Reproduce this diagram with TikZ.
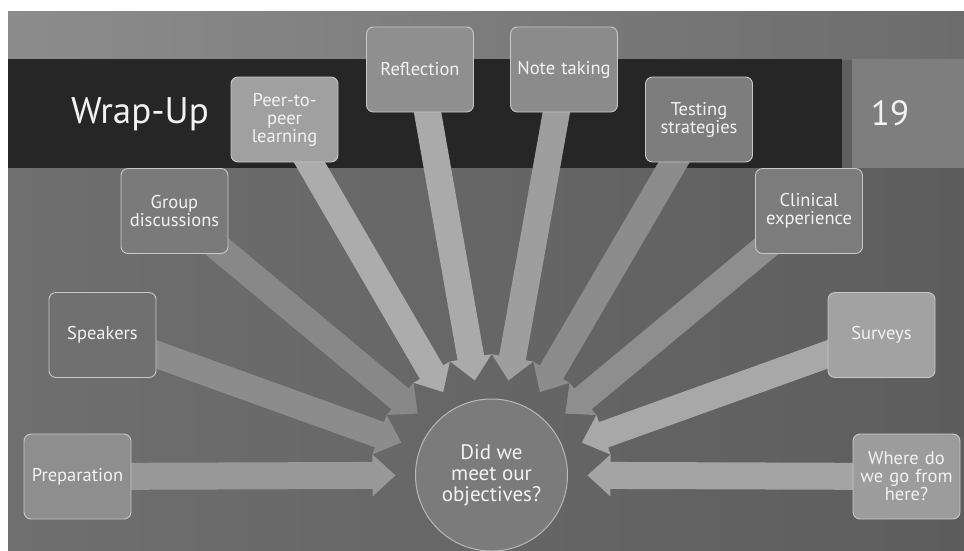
\documentclass[tikz,border=0pt]{standalone}
\usepackage{fontspec}
\setmainfont{PT Sans}
\usetikzlibrary{calc}
\pgfdeclarelayer{back}
\pgfdeclarelayer{mid}
\pgfsetlayers{back,mid,main}
\definecolor{bandcol}{HTML}{262626}
\definecolor{pagecol}{HTML}{7E7E7E}
\definecolor{bgtopL}{HTML}{8C8C8C}
\definecolor{bgtopR}{HTML}{6C6C6C}
\definecolor{bgL}{HTML}{6F6F6F}
\definecolor{bgR}{HTML}{5D5D5D}
\definecolor{boxline}{HTML}{C8C8C8}
\definecolor{circfill}{HTML}{7B7B7B}
\definecolor{circline}{HTML}{B8B8B8}
\definecolor{txt}{HTML}{F2F2F2}
% box fills
\definecolor{fRefl}{HTML}{8F8F8F}
\definecolor{fNote}{HTML}{8B8B8B}
\definecolor{fPeer}{HTML}{A0A0A0}
\definecolor{fTest}{HTML}{7D7D7D}
\definecolor{fGroup}{HTML}{7A7A7A}
\definecolor{fClin}{HTML}{7C7C7C}
\definecolor{fSpeak}{HTML}{707070}
\definecolor{fSurv}{HTML}{A2A2A2}
\definecolor{fPrep}{HTML}{8E8E8E}
\definecolor{fWhere}{HTML}{9C9C9C}
% arrow fills
\definecolor{aPrep}{HTML}{989898}
\definecolor{aSpeak}{HTML}{8C8C8C}
\definecolor{aGroup}{HTML}{888888}
\definecolor{aPeer}{HTML}{ACACAC}
\definecolor{aRefl}{HTML}{AAAAAA}
\definecolor{aNote}{HTML}{9E9E9E}
\definecolor{aTest}{HTML}{8C8C8C}
\definecolor{aClin}{HTML}{8E8E8E}
\definecolor{aSurv}{HTML}{A8A8A8}
\definecolor{aWhere}{HTML}{A4A4A4}
\newcommand{\blockarrow}[2]{%
  \fill[fill=#2]
    ($(c)!96pt!(#1)$)
    -- ($($(c)!119pt!(#1)$)!21pt!90:(#1)$)
    -- ($($(c)!119pt!(#1)$)!13.5pt!90:(#1)$)
    -- ($(#1)!13.5pt!-90:(c)$)
    -- ($(#1)!13.5pt!90:(c)$)
    -- ($($(c)!119pt!(#1)$)!13.5pt!-90:(#1)$)
    -- ($($(c)!119pt!(#1)$)!21pt!-90:(#1)$)
    -- cycle;}
\begin{document}
\begin{tikzpicture}[x=1pt,y=-1pt,
  item/.style={draw=boxline, line width=0.9pt, rounded corners=7pt,
    minimum width=107pt, minimum height=85pt, text width=104pt,
    align=center, font=\fontsize{18.5}{18}\selectfont, text=txt, inner sep=0pt},
  hub/.style={circle, draw=circline, line width=1pt, fill=circfill,
    minimum size=152pt, inner sep=0pt, align=center,
    font=\fontsize{21}{21}\selectfont, text=txt}
]
\useasboundingbox (0,0) rectangle (964,550);
% nodes
\node[item, fill=fRefl] (refl) at (420,69.5) {Reflection};
\node[item, fill=fNote] (note) at (564,69.5) {Note taking};
\node[item, fill=fPeer] (peer) at (284.5,119.5) {Peer-to-\\peer\\learning};
\node[item, fill=fTest] (test) at (699,119.5) {Testing\\strategies};
\node[item, fill=fGroup] (group) at (174.5,211) {Group\\discussions};
\node[item, fill=fClin] (clin) at (809,211) {Clinical\\experience};
\node[item, fill=fSpeak] (speak) at (102.5,335) {Speakers};
\node[item, fill=fSurv] (surv) at (881.5,335) {Surveys};
\node[item, fill=fPrep] (prep) at (77.5,476.5) {Preparation};
\node[item, fill=fWhere] (where) at (906.5,476.5) {Where do\\we go from\\here?};
\node[hub] (c) at (491.5,475) {Did we\\meet our\\objectives?};
% background
\begin{pgfonlayer}{back}
  \shade[left color=bgL, right color=bgR] (8,11) rectangle (964,550);
  \shade[left color=bgtopL, right color=bgtopR] (8,11) rectangle (964,59);
  \fill[bandcol] (8,59) rectangle (842,168);
  \fill[pagecol] (852,59) rectangle (964,168);
  \node[font=\fontsize{37}{40}\selectfont, text=txt] (title) at (140,114) {Wrap-Up};
  \node[font=\fontsize{35}{38}\selectfont, text=txt] (pg) at (890,113) {19};
\end{pgfonlayer}
% arrows
\begin{pgfonlayer}{mid}
  \blockarrow{prep}{aPrep}
  \blockarrow{speak}{aSpeak}
  \blockarrow{group}{aGroup}
  \blockarrow{peer}{aPeer}
  \blockarrow{refl}{aRefl}
  \blockarrow{note}{aNote}
  \blockarrow{test}{aTest}
  \blockarrow{clin}{aClin}
  \blockarrow{surv}{aSurv}
  \blockarrow{where}{aWhere}
\end{pgfonlayer}
\end{tikzpicture}
\end{document}
